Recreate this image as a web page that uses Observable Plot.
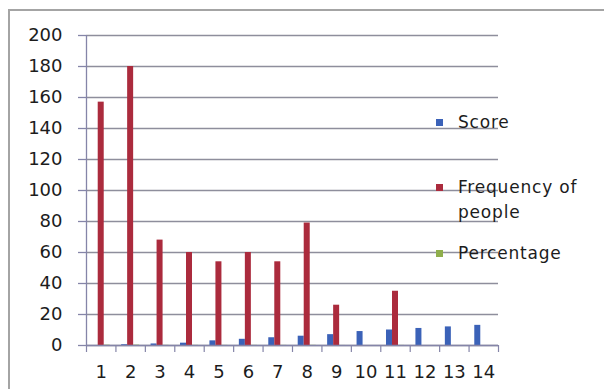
<!DOCTYPE html>
<html>
<head>
<meta charset="utf-8">
<script src="https://cdn.jsdelivr.net/npm/d3@7"></script>
<script src="https://cdn.jsdelivr.net/npm/@observablehq/plot@0.6"></script>
<style>
  html, body { margin: 0; padding: 0; background: #fff; }
  #wrap { position: relative; width: 604px; height: 389px; overflow: hidden; }
  #border { position: absolute; left: 8px; top: 9px; width: 600px; height: 420px;
            border: 2px solid #a4a4a4; box-sizing: border-box; }
  #chart { position: absolute; left: 0; top: 0; }
  #legend { position: absolute; left: 436px; top: 0; font-family: "DejaVu Sans", sans-serif;
            font-size: 17px; color: #1c1c1c; letter-spacing: 0.8px; }
  .item { position: absolute; left: 0; white-space: nowrap; line-height: 25px; }
  .sw { position: absolute; left: 0; width: 7px; height: 7px; }
  .lbl { position: absolute; left: 22px; }
</style>
</head>
<body>
<div id="wrap">
  <div id="border"></div>
  <div id="chart"></div>
  <div id="legend"></div>
</div>
<script>
// Categories along the x axis
const categories = [1, 2, 3, 4, 5, 6, 7, 8, 9, 10, 11, 12, 13, 14];
// Series values, one per category
const score      = [0, 0.5, 1, 1.5, 3, 4, 5, 6, 7, 9, 10, 11, 12, 13];
const frequency  = [157, 180, 68, 60, 54, 60, 54, 79, 26, 0, 35, 0, 0, 0];
const percentage = [0.2, 0.23, 0.09, 0.08, 0.07, 0.08, 0.07, 0.1, 0.03, 0, 0.05, 0, 0, 0];
// Series names and colours
const seriesNames = ["Score", "Frequency of people", "Percentage"];
const seriesColors = ["#3b62b8", "#ab2b3d", "#8fae4c"];
// Y axis ticks
const yTicks = [0, 20, 40, 60, 80, 100, 120, 140, 160, 180, 200];

// Long table: each bar sits in its slot within the category group
const seriesValues = [score, frequency, percentage];
const groupWidth = 0.612;             // share of a category occupied by the three bars
const slot = groupWidth / seriesNames.length;
const rows = [];
seriesNames.forEach((name, s) => {
  categories.forEach((c, i) => {
    const x1 = c - groupWidth / 2 + s * slot;
    rows.push({category: c, series: name, value: seriesValues[s][i], x1, x2: x1 + slot});
  });
});
const boundaries = d3.range(0.5, categories.length + 1, 1);

const axisColor = "#8585a8";
const gridColor = "#8e8e9c";
const font = "DejaVu Sans, sans-serif";

const plot = Plot.plot({
  width: 604,
  height: 389,
  marginLeft: 86,
  marginRight: 106,
  marginTop: 35,
  marginBottom: 44,
  style: {fontFamily: font, fontSize: "18px", color: "#1c1c1c", background: "transparent"},
  x: {domain: [0.5, categories.length + 0.5]},
  y: {domain: [0, 200]},
  color: {domain: seriesNames, range: seriesColors},
  marks: [
    Plot.gridY(yTicks, {stroke: gridColor, strokeOpacity: 1, strokeWidth: 1.4}),
    Plot.rectY(rows, {x1: "x1", x2: "x2", y: "value", fill: "series"}),
    // y axis: labels, ticks, and the axis line
    Plot.axisY(yTicks, {tickSize: 8, tickPadding: 16, stroke: axisColor, strokeWidth: 1.3,
      label: null, style: "letter-spacing:1.5px"}),
    Plot.ruleX([0.5], {stroke: axisColor, strokeWidth: 1.3}),
    // x axis: base line, boundary ticks, category labels
    Plot.ruleY([0], {stroke: axisColor, strokeWidth: 1.3}),
    Plot.axisX(boundaries, {tickSize: 7, stroke: axisColor, strokeWidth: 1.2, tickFormat: () => "", label: null}),
    Plot.axisX(categories, {tickSize: 0, tickPadding: 20, label: null, style: "letter-spacing:0.3px"})
  ]
});
document.getElementById("chart").appendChild(plot);

// Legend on the right, coloured from the plot's colour scale
const color = plot.scale("color");
const legendItems = [
  {name: "Score", lines: ["Score"], top: 110},
  {name: "Frequency of people", lines: ["Frequency of", "people"], top: 175},
  {name: "Percentage", lines: ["Percentage"], top: 241}
];
const legend = d3.select("#legend");
legendItems.forEach(d => {
  const item = legend.append("div").attr("class", "item").style("top", d.top + "px");
  item.append("div").attr("class", "sw")
    .style("top", "9px")
    .style("background", color.range[color.domain.indexOf(d.name)]);
  item.append("div").attr("class", "lbl").html(d.lines.join("<br>"));
});
</script>
</body>
</html>
